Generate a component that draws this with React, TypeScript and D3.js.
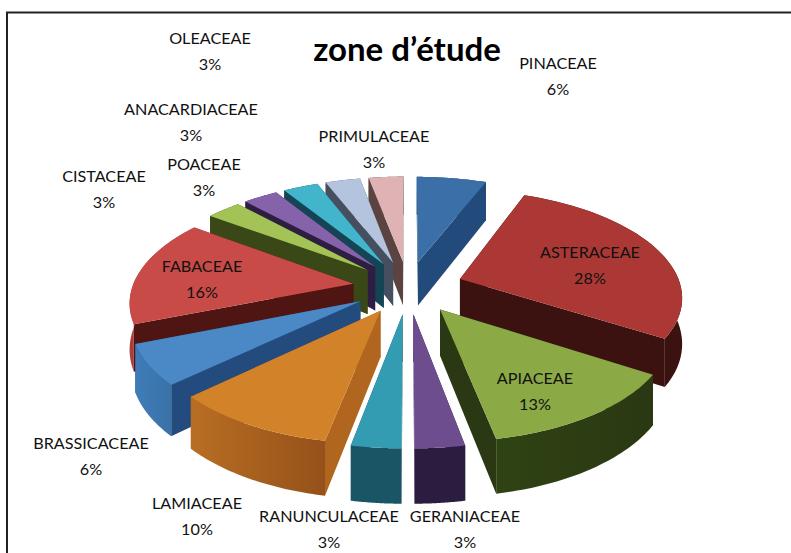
import React from "react";
import * as d3 from "d3";

const families = [
  "PINACEAE", "ASTERACEAE", "APIACEAE", "GERANIACEAE", "RANUNCULACEAE", "LAMIACEAE", "BRASSICACEAE",
  "FABACEAE", "CISTACEAE", "POACEAE", "ANACARDIACEAE", "OLEACEAE", "PRIMULACEAE",
];
const percents = [6, 28, 13, 3, 3, 10, 6, 16, 3, 3, 3, 3, 3];

// colours of each slice: top face, cut faces, rim (left and right end of the rim gradient)
const topColors = ["#3b6fa8", "#ab3835", "#8ba945", "#6e4d8f", "#339cb3", "#d28229", "#4a88c6", "#c94b48", "#a4c356", "#8662ab", "#42b4cc", "#b4c4de", "#dfb3b3"];
const cutColors = ["#224a7a", "#3b1210", "#2a3813", "#2b1d40", "#1a5565", "#b0661f", "#234b7d", "#4f1512", "#3a4717", "#2e1f42", "#154554", "#464f5f", "#5a4340"];
const rimLeft = ["#224a7a", "#3b1210", "#2f4313", "#2b1d40", "#1a5565", "#b86e22", "#3f7cb8", "#a83e3b", "#3a4717", "#2e1f42", "#154554", "#464f5f", "#5a4340"];
const rimRight = ["#224a7a", "#3b1210", "#2a3813", "#2b1d40", "#1a5565", "#95511a", "#3a72a8", "#a83e3b", "#3a4717", "#2e1f42", "#154554", "#464f5f", "#5a4340"];

// label anchors (centre x, first baseline y), placed by hand in the original chart
const labelX = [558, 590, 535, 465, 329, 197, 91, 202, 104, 204, 191, 210, 374];
const labelY = [69, 258, 384, 522, 522, 509, 449, 272, 182, 170, 115, 44, 142];

const width = 791;
const height = 553;
const cx = 408;
const cy = 287;
const radius = 221;
const squash = 0.475; // vertical flattening of the pie plane
const perspective = 0.15;
const explode = 0.25;
const depth = 45;

// pie plane -> screen
const project = (u: number, v: number, drop = false): [number, number] => {
  const s = 1 / (1 - perspective * v);
  return [cx + radius * u * s, cy + radius * squash * v * s + (drop ? depth * s : 0)];
};

const line = d3.line();

const slices = d3
  .pie<number>()
  .sort(null)
  .startAngle(0)
  .endAngle(2 * Math.PI)(percents)
  .map((d, i) => {
    const mid = (d.startAngle + d.endAngle) / 2;
    const ox = explode * Math.sin(mid);
    const oy = -explode * Math.cos(mid);
    const at = (r: number, a: number, drop = false) => project(ox + r * Math.sin(a), oy - r * Math.cos(a), drop);
    const angles = d3.range(0, 41).map((k) => d.startAngle + ((d.endAngle - d.startAngle) * k) / 40);
    const arcTop = angles.map((a) => at(1, a));
    const arcBottom = angles.map((a) => at(1, a, true));
    const wall = (a: number) => line([at(0, a), at(1, a), at(1, a, true), at(0, a, true)]) + "Z";
    return {
      i,
      depthKey: oy - Math.cos(mid),
      top: line([at(0, 0), ...arcTop]) + "Z",
      rim: line([...arcTop, ...arcBottom.slice().reverse()]) + "Z",
      wallStart: wall(d.startAngle),
      wallEnd: wall(d.endAngle),
      x0: d3.min(arcTop, (p) => p[0]) as number,
      x1: d3.max(arcTop, (p) => p[0]) as number,
    };
  });

// back to front
const ordered = d3.sort(slices, (s) => s.depthKey);

const labelFont = "Lato, 'Noto Sans', sans-serif";

export default function App() {
  return (
    <svg
      width={width}
      height={height}
      viewBox={`0 0 ${width} ${height}`}
      style={{ position: "absolute", left: 0, top: 0, background: "#fff" }}
    >
      <defs>
        {slices.map((s) => (
          <linearGradient key={s.i} id={`rim${s.i}`} gradientUnits="userSpaceOnUse" x1={s.x0} x2={s.x1} y1={0} y2={0}>
            <stop offset="0" stopColor={rimLeft[s.i]} />
            <stop offset="1" stopColor={rimRight[s.i]} />
          </linearGradient>
        ))}
      </defs>

      <path d={`M${width},12.5H7V${height}`} fill="none" stroke="#222" strokeWidth={2} />

      {ordered.map((s) => (
        <g key={s.i}>
          <path d={s.wallStart} fill={cutColors[s.i]} />
          <path d={s.wallEnd} fill={cutColors[s.i]} />
          <path d={s.rim} fill={`url(#rim${s.i})`} />
          <path d={s.top} fill={topColors[s.i]} />
        </g>
      ))}

      <text x={407} y={61} textAnchor="middle" fontFamily={labelFont} fontWeight={700} fontSize={33} fill="#000">
        zone d’étude
      </text>

      {families.map((name, i) => (
        <g key={name} textAnchor="middle" fontFamily={labelFont} fontSize={16.2} fill="#111">
          <text x={labelX[i]} y={labelY[i]}>{name}</text>
          <text x={labelX[i]} y={labelY[i] + 25.5}>{percents[i]}%</text>
        </g>
      ))}
    </svg>
  );
}
